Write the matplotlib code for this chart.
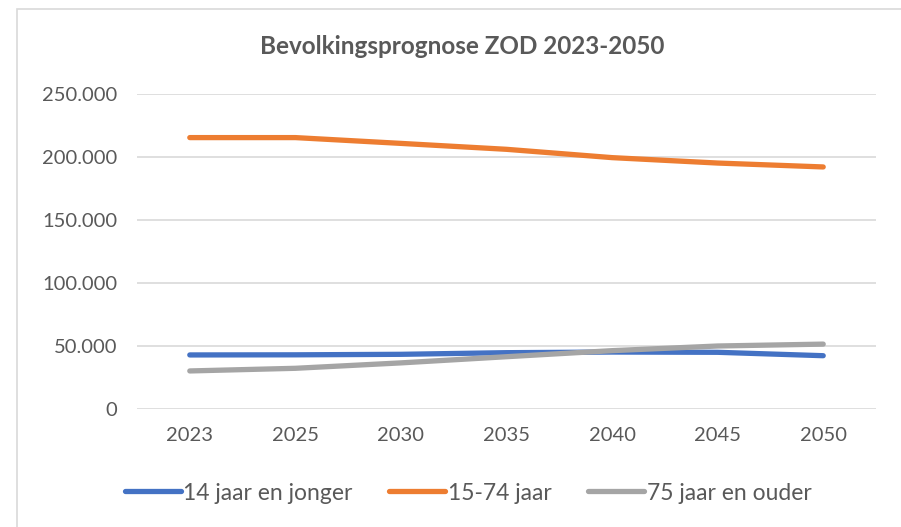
import matplotlib
matplotlib.use("Agg")
from matplotlib import pyplot as plt
from matplotlib.patches import Rectangle
from matplotlib.ticker import FuncFormatter

years = ["2023", "2025", "2030", "2035", "2040", "2045", "2050"]
young = [42900, 43000, 43400, 44700, 45200, 45000, 42300]
middle = [215400, 215400, 210800, 206100, 199500, 195200, 192100]
old = [30200, 32300, 36600, 41500, 46300, 50000, 51500]
labels = ["14 jaar en jonger", "15-74 jaar", "75 jaar en ouder"]
colors = ["#4472C4", "#ED7D31", "#A5A5A5"]

plt.rcParams['font.family'] = ['Lato', 'DejaVu Sans']

W, H = 901, 527
fig = plt.figure(figsize=(W / 100, H / 100), dpi=100)

# chart frame (runs off the right and bottom edge of the screenshot)
fig.patches.append(Rectangle((17 / W, -0.1), 1.2, 1 - 9 / H + 0.1,
                             transform=fig.transFigure, fill=False,
                             edgecolor="#D9D9D9", linewidth=1.2))

ax = fig.add_axes([137 / W, (H - 409) / H, 739 / W, 315 / H])
x = range(len(years))
for series, lab, col in zip([young, middle, old], labels, colors):
    ax.plot(x, series, color=col, linewidth=3.8, solid_capstyle='round',
            solid_joinstyle='round', label=lab)

ax.set_xlim(-0.5, len(years) - 0.5)
ax.set_ylim(0, 250000)
ax.set_yticks(range(0, 250001, 50000))
ax.yaxis.set_major_formatter(FuncFormatter(lambda v, p: f"{int(v):,}".replace(",", ".")))
ax.set_xticks(list(x))
ax.set_xticklabels(years)
ax.grid(axis='y', color="#D9D9D9", linewidth=1.2)
ax.set_axisbelow(True)
for s in ax.spines.values():
    s.set_visible(False)
ax.tick_params(length=0, labelsize=14.5, labelcolor="#595959")
ax.tick_params(axis='y', pad=14)
ax.tick_params(axis='x', pad=13)

fig.text(462 / W, 1 - 47 / H, "Bevolkingsprognose ZOD 2023-2050", ha='center', va='center',
         fontsize=17.5, fontweight='bold', color="#595959")

fig.legend(loc='center', bbox_to_anchor=(468 / W, 1 - 493 / H), ncol=3, frameon=False,
           fontsize=16.5, labelcolor="#595959", handlelength=2.45, handletextpad=0.1,
           columnspacing=1.6)

fig.savefig("out.png", dpi=100)
